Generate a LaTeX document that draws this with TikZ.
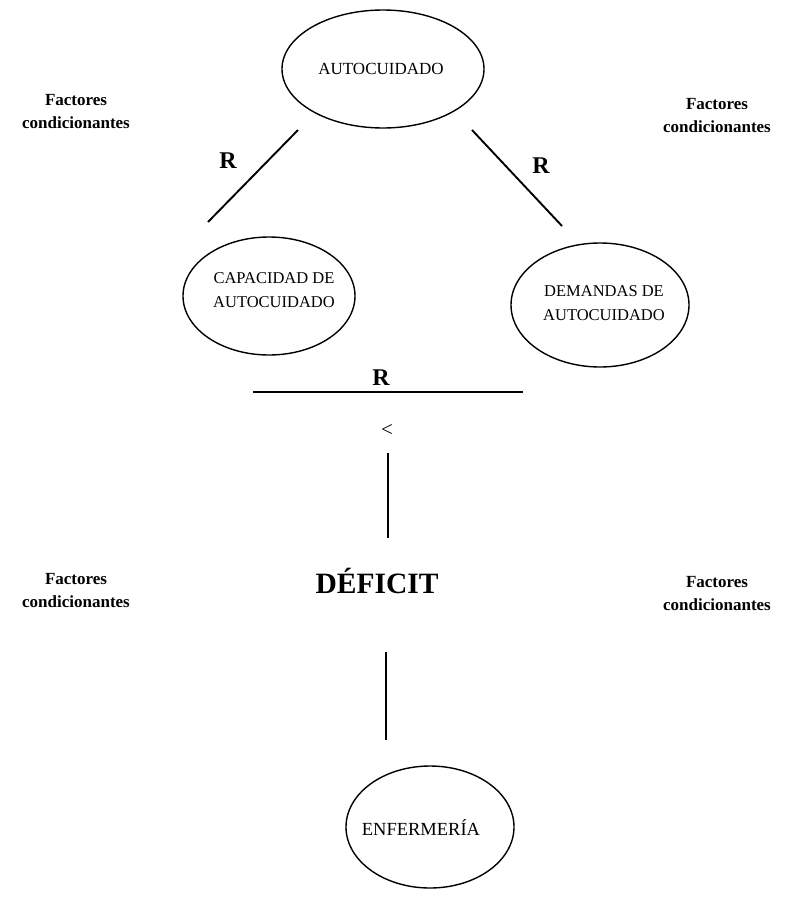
\documentclass[tikz,border=0pt]{standalone}
\usepackage{fontspec}
\setmainfont{Liberation Serif}
\usetikzlibrary{shapes.geometric}
\begin{document}
\begin{tikzpicture}[x=1pt,y=-1pt,
  oval/.style={draw,ellipse,line width=1.4pt,inner sep=-30pt},
  ovaltext/.style={align=center,inner sep=0pt,font=\fontsize{16.5}{24}\selectfont},
  factor/.style={align=center,font=\bfseries\fontsize{17}{23}\selectfont},
  rlabel/.style={font=\bfseries\fontsize{24}{26}\selectfont},
  link/.style={line width=1.9pt}]
\useasboundingbox (0,0) rectangle (797,897);

% self-care concepts: outline ellipses
\node[oval,minimum width=202pt,minimum height=118pt] (auto) at (383,69) {};
\node[oval,minimum width=172pt,minimum height=118pt] (capac) at (269,296) {};
\node[oval,minimum width=178pt,minimum height=124pt] (deman) at (600,305) {};
\node[oval,minimum width=168pt,minimum height=122pt] (enf) at (430,827) {};

% and their captions
\node[ovaltext,font=\fontsize{17}{24}\selectfont] (autot) at (381,69) {AUTOCUIDADO};
\node[ovaltext] (capact) at (274,290) {CAPACIDAD DE\\AUTOCUIDADO};
\node[ovaltext] (demant) at (604,303) {DEMANDAS DE\\AUTOCUIDADO};
\node[ovaltext,font=\fontsize{18.5}{24}\selectfont] (enft) at (421,828) {ENFERMERÍA};

% conditioning factors
\node[factor] (f1) at (76,112) {Factores\\condicionantes};
\node[factor] (f2) at (717,116) {Factores\\condicionantes};
\node[factor] (f3) at (76,591) {Factores\\condicionantes};
\node[factor] (f4) at (717,594) {Factores\\condicionantes};

% relation labels
\node[rlabel] (r1) at (228,161) {R};
\node[rlabel] (r2) at (541,166) {R};
\node[rlabel] (r3) at (381,378) {R};
\node[font=\fontsize{21}{24}\selectfont] (lt) at (387,430) {<};
\node[font=\bfseries\fontsize{29.5}{32}\selectfont] (def) at (377,581) {DÉFICIT};

% free ends of the relation lines
\coordinate (a1) at (298,130);
\coordinate (c1) at (208,222);
\coordinate (a2) at (472,130);
\coordinate (d1) at (562,226);
\coordinate (h1) at (253,392);
\coordinate (h2) at (523,392);
\coordinate (v1) at (388,453);
\coordinate (v2) at (388,538);
\coordinate (v3) at (386,652);
\coordinate (v4) at (386,740);

\draw[link] (a1) -- (c1);
\draw[link] (a2) -- (d1);
\draw[link] (h1) -- (h2);
\draw[link] (v1) -- (v2);
\draw[link] (v3) -- (v4);
\end{tikzpicture}
\end{document}
